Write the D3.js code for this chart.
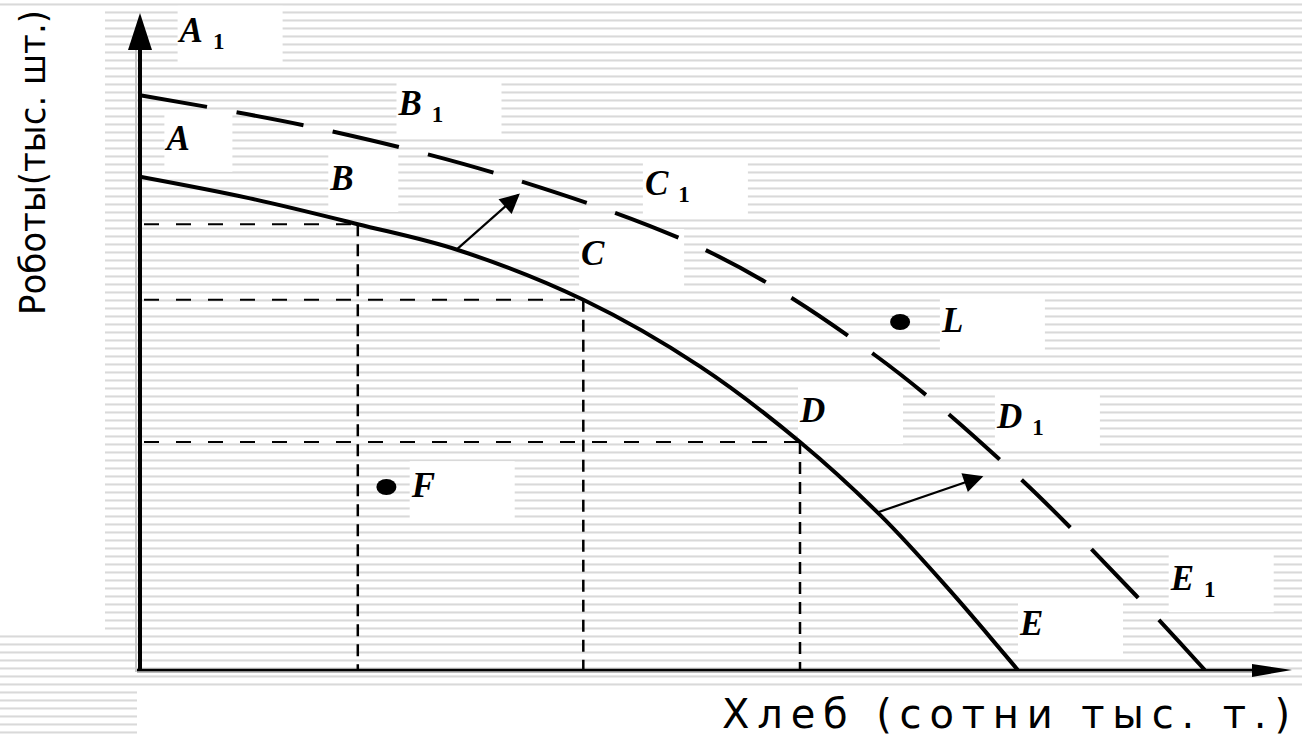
<!DOCTYPE html>
<html>
<head>
<meta charset="utf-8">
<script src="https://cdn.jsdelivr.net/npm/d3@7"></script>
<style>
  body { margin: 0; background: #fff; }
  svg { display: block; }
</style>
</head>
<body>
<div id="chart"></div>
<script>
// кривая производственных возможностей (исходная)
var ppfX = [0, 10, 19.8, 28.9, 40.3, 50.9, 60, 67.3, 73.6, 79.8];
var ppfY = [82.2, 78.6, 74.3, 70.0, 61.7, 50.6, 38, 25.8, 13.3, 0];
// сдвинутая кривая (пунктир)
var ppf1X = [0, 16.4, 33.7, 52.2, 66.8, 79.5, 90.5, 96.8];
var ppf1Y = [95.8, 90.2, 82, 69.3, 52.5, 32.8, 12.5, 0];
// точки B, C, D на кривой - для пунктирных проекций
var guideIdx = [2, 4, 6];
// отдельные точки
var dotNames = ["L", "F"];
var dotX = [69.1, 22.4];
var dotY = [58, 30.5];
// подписи
var labelNames = ["A", "A", "B", "B", "C", "C", "L", "D", "D", "F", "E", "E"];
var labelSub   = ["1", "", "1", "", "1", "", "", "", "1", "", "1", ""];
var labelX = [3.6, 2.4, 23.5, 17.3, 45.9, 40.1, 72.9, 60, 77.9, 24.7, 93.7, 80];
var labelY = [104.7, 86.7, 92.5, 80, 79.2, 67.5, 56.3, 41.3, 40.3, 28.8, 13.3, 5.8];
// стрелки сдвига
var shiftFrom = [[28.8, 70.1], [67.1, 26.3]];
var shiftTo   = [[34.4, 79.2], [76.5, 32.2]];

var xTitle = "Хлеб (сотни тыс. т.)";
var yTitle = "Роботы(тыс. шт.)";

var width = 1302, height = 737;

var svg = d3.select("#chart").append("svg")
  .attr("width", width)
  .attr("height", height);

var defs = svg.append("defs");
var pat = defs.append("pattern")
  .attr("id", "stripes")
  .attr("patternUnits", "userSpaceOnUse")
  .attr("width", 8).attr("height", 8)
  .attr("y", 3);
pat.append("rect").attr("width", 8).attr("height", 8).attr("fill", "#fff");
pat.append("rect").attr("y", 0).attr("width", 8).attr("height", 1).attr("fill", "#e9e9e9");
pat.append("rect").attr("y", 1).attr("width", 8).attr("height", 1).attr("fill", "#d9d9d9");
pat.append("rect").attr("y", 2).attr("width", 8).attr("height", 1).attr("fill", "#ececec");

// полосатый фон
svg.append("rect").attr("width", width).attr("height", height).attr("fill", "url(#stripes)");
svg.append("rect").attr("x", 0).attr("y", 6).attr("width", 105).attr("height", 624).attr("fill", "#fff");
svg.append("rect").attr("x", 137).attr("y", 691).attr("width", width - 137).attr("height", 46).attr("fill", "#fff");

var x = d3.scaleLinear().domain([0, 100]).range([140, 1240]);
var y = d3.scaleLinear().domain([0, 100]).range([670, 70]);

// белые подложки под подписями
var narrow = { 1: 68, 3: 70 };
svg.selectAll(".lblbox")
  .data(labelNames)
  .enter().append("rect")
  .attr("class", "lblbox")
  .attr("x", function(d, i) { return x(labelX[i]) - 2; })
  .attr("y", function(d, i) { return y(labelY[i]) - 36; })
  .attr("width", function(d, i) { return narrow[i] || 105; })
  .attr("height", 58)
  .attr("fill", "#fff");

// пунктирные проекции
var g = svg.append("g");
guideIdx.forEach(function(k) {
  g.append("line")
    .attr("x1", x(0) + 4).attr("x2", x(ppfX[k]))
    .attr("y1", y(ppfY[k])).attr("y2", y(ppfY[k]))
    .attr("stroke", "#000").attr("stroke-width", 2)
    .attr("stroke-dasharray", "15,17");
  g.append("line")
    .attr("x1", x(ppfX[k])).attr("x2", x(ppfX[k]))
    .attr("y1", y(ppfY[k])).attr("y2", y(0))
    .attr("stroke", "#000").attr("stroke-width", 2.5)
    .attr("stroke-dasharray", "12,8");
});

var line = d3.line()
  .x(function(d) { return x(d[0]); })
  .y(function(d) { return y(d[1]); })
  .curve(d3.curveCatmullRom.alpha(0.5));

svg.append("path")
  .datum(ppfX.map(function(v, i) { return [v, ppfY[i]]; }))
  .attr("d", line)
  .attr("fill", "none")
  .attr("stroke", "#000")
  .attr("stroke-width", 4);

var dashed = svg.append("path")
  .datum(ppf1X.map(function(v, i) { return [v, ppf1Y[i]]; }))
  .attr("d", line)
  .attr("fill", "none")
  .attr("stroke", "#000")
  .attr("stroke-width", 4);

// 13 штрихов, начинается и кончается штрихом
var len = dashed.node().getTotalLength();
var gap = 30;
var dash = (len - 12 * gap) / 13;
dashed.attr("stroke-dasharray", dash + "," + gap);

// стрелки
defs.append("marker")
  .attr("id", "head")
  .attr("viewBox", "0 0 10 10")
  .attr("refX", 9).attr("refY", 5)
  .attr("markerWidth", 11).attr("markerHeight", 9)
  .attr("markerUnits", "strokeWidth")
  .attr("orient", "auto")
  .append("path").attr("d", "M0,0L10,5L0,10Z").attr("fill", "#000");

shiftFrom.forEach(function(p, i) {
  svg.append("line")
    .attr("x1", x(p[0])).attr("y1", y(p[1]))
    .attr("x2", x(shiftTo[i][0])).attr("y2", y(shiftTo[i][1]))
    .attr("stroke", "#000").attr("stroke-width", 2.2)
    .attr("marker-end", "url(#head)");
});

// точки L и F
svg.selectAll(".dot")
  .data(dotNames)
  .enter().append("ellipse")
  .attr("class", "dot")
  .attr("cx", function(d, i) { return x(dotX[i]); })
  .attr("cy", function(d, i) { return y(dotY[i]); })
  .attr("rx", 10).attr("ry", 8)
  .attr("fill", "#000");

// подписи точек
var lbl = svg.selectAll(".lbl")
  .data(labelNames)
  .enter().append("text")
  .attr("class", "lbl")
  .attr("x", function(d, i) { return x(labelX[i]); })
  .attr("y", function(d, i) { return y(labelY[i]); })
  .attr("font-family", "Liberation Serif")
  .attr("font-weight", "bold")
  .attr("font-style", "italic")
  .attr("font-size", 35);
lbl.append("tspan").text(function(d) { return d; });
lbl.append("tspan")
  .attr("dx", 10).attr("dy", 7)
  .attr("font-style", "normal")
  .attr("font-size", 23)
  .text(function(d, i) { return labelSub[i]; });

// оси
svg.append("line")
  .attr("x1", 136).attr("x2", 136).attr("y1", 40).attr("y2", 672)
  .attr("stroke", "#c8c8c8").attr("stroke-width", 2);
svg.append("line")
  .attr("x1", x(0)).attr("x2", x(0)).attr("y1", 40).attr("y2", 672)
  .attr("stroke", "#000").attr("stroke-width", 4);
svg.append("path")
  .attr("d", "M" + x(0) + ",13L" + (x(0) + 12) + ",50L" + (x(0) - 12) + ",50Z")
  .attr("fill", "#000");
svg.append("line")
  .attr("x1", 137).attr("x2", 1260).attr("y1", y(0) + 2).attr("y2", y(0) + 2)
  .attr("stroke", "#bbb").attr("stroke-width", 2);
svg.append("line")
  .attr("x1", 137).attr("x2", 1260).attr("y1", y(0)).attr("y2", y(0))
  .attr("stroke", "#000").attr("stroke-width", 2.5);
svg.append("path")
  .attr("d", "M1292," + y(0) + "L1252," + (y(0) - 6) + "L1252," + (y(0) + 7) + "Z")
  .attr("fill", "#000");

// названия осей
svg.append("text")
  .attr("x", 722).attr("y", 728)
  .attr("font-family", "DejaVu Sans")
  .attr("font-size", 40)
  .attr("textLength", 568)
  .attr("lengthAdjust", "spacing")
  .text(xTitle);

svg.append("text")
  .attr("transform", "translate(45,315)rotate(-90)")
  .attr("font-family", "DejaVu Sans Condensed")
  .attr("font-size", 36)
  .attr("textLength", 305)
  .attr("lengthAdjust", "spacingAndGlyphs")
  .text(yTitle);
</script>
</body>
</html>
